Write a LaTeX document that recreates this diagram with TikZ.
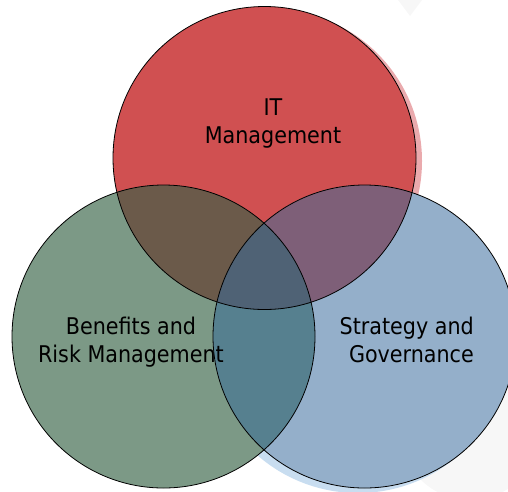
\documentclass[tikz,border=0pt]{standalone}
\usepackage{fontspec}
\setmainfont{DejaVu Sans Condensed}
\definecolor{cred}{RGB}{208,80,81}
\definecolor{cgreen}{RGB}{124,153,134}
\definecolor{cblue}{RGB}{148,175,202}
\definecolor{crg}{RGB}{107,90,74}
\definecolor{crb}{RGB}{126,95,120}
\definecolor{cgb}{RGB}{86,128,143}
\definecolor{crgb}{RGB}{79,98,117}
\definecolor{haloR}{RGB}{234,170,173}
\definecolor{haloB}{RGB}{200,221,240}
\definecolor{bggray}{RGB}{247,247,247}
\tikzset{
  ring/.style={draw=black, line width=0.8pt},
  lbl/.style={font=\fontsize{23}{28}\selectfont, text=black, inner sep=0pt}
}
\begin{document}
\begin{tikzpicture}[x=1pt,y=-1pt]
\useasboundingbox (0,0) rectangle (508,491);
% faint background shapes
\fill[bggray] (470,430) circle (70);
\fill[bggray] (398,0) -- (422,0) -- (410,16) -- cycle;
% halos
\fill[haloR] (270,161) circle (152);
\fill[haloB] (358,340) circle (153);
% circles
\coordinate (R) at (264.5,158);
\coordinate (G) at (163.5,336.5);
\coordinate (B) at (364.5,336.5);
\def\rad{151.5}
\fill[cred] (R) circle (\rad);
\fill[cgreen] (G) circle (\rad);
\fill[cblue] (B) circle (\rad);
\begin{scope}
  \clip (R) circle (\rad);
  \fill[crg] (G) circle (\rad);
  \fill[crb] (B) circle (\rad);
\end{scope}
\begin{scope}
  \clip (G) circle (\rad);
  \fill[cgb] (B) circle (\rad);
  \clip (B) circle (\rad);
  \fill[crgb] (R) circle (\rad);
\end{scope}
\draw[ring] (R) circle (\rad);
\draw[ring] (G) circle (\rad);
\draw[ring] (B) circle (\rad);
% labels (base anchor = baseline of last line)
\node[lbl, align=center, anchor=base] (t1) at (273,143) {IT\\Management};
\node[lbl, align=center, anchor=base] (t2) at (131,362) {Benefits and\\Risk Management};
\node[lbl, align=right, anchor=base east] (t3) at (474,362) {Strategy and\\Governance};
\end{tikzpicture}
\end{document}
